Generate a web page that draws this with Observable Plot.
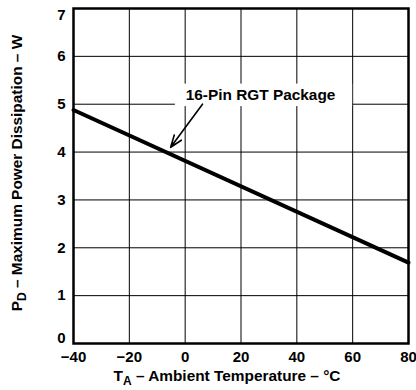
<!DOCTYPE html>
<html>
<head>
<meta charset="utf-8">
<script src="https://cdn.jsdelivr.net/npm/d3@7"></script>
<script src="https://cdn.jsdelivr.net/npm/@observablehq/plot@0.6"></script>
<style>
  html, body { margin: 0; padding: 0; background: #fff; }
  #chart { width: 416px; height: 390px; }
  svg { font-family: "Liberation Sans", Arial, sans-serif; }
</style>
</head>
<body>
<div id="chart"></div>
<script>
// Data
const temperature = [-40, 80];          // T_A (°C)
const power = [4.88, 1.69];             // P_D (W)
const xTicks = [-40, -20, 0, 20, 40, 60, 80];
const yTicks = [0, 1, 2, 3, 4, 5, 6, 7];
const seriesLabel = "16-Pin RGT Package";
// annotation anchors (data units)
const labelPos = {x: 27, y: 5.2};
const labelBox = {x1: -3.5, x2: 60, y1: 4.95, y2: 5.42};
const arrowPos = {x1: 6.2, y1: 5.0, x2: -5.2, y2: 4.1};

const data = temperature.map((t, i) => ({t, p: power[i]}));
const yMin = yTicks[0], yMax = yTicks[yTicks.length - 1];
const yMid = yTicks.filter(v => v !== yMin && v !== yMax);
const yAxisOpts = {tickSize: 0, tickPadding: 8, fontSize: 15, fontWeight: "bold", label: null};

const plot = Plot.plot({
  width: 416,
  height: 390,
  marginTop: 8,
  marginRight: 8,
  marginBottom: 47,
  marginLeft: 73,
  style: {fontFamily: "'Liberation Sans', Arial, sans-serif", fontSize: "15px", fontWeight: "bold", color: "#000"},
  x: {domain: [-40, 80], ticks: xTicks, tickSize: 0, tickPadding: 8, label: null},
  y: {domain: [0, 7], ticks: yTicks, tickSize: 0, tickPadding: 8, label: null},
  marks: [
    Plot.gridX(xTicks, {stroke: "#000", strokeOpacity: 1, strokeWidth: 1}),
    Plot.gridY(yTicks, {stroke: "#000", strokeOpacity: 1, strokeWidth: 1}),
    Plot.rect([labelBox], {x1: "x1", x2: "x2", y1: "y1", y2: "y2", fill: "#fff"}),
    Plot.line(data, {x: "t", y: "p", stroke: "#000", strokeWidth: 4}),
    Plot.arrow([arrowPos], {x1: "x1", y1: "y1", x2: "x2", y2: "y2", stroke: "#000", strokeWidth: 1.6, headLength: 12, headAngle: 40}),
    Plot.text([labelPos], {x: "x", y: "y", text: () => seriesLabel, fontSize: 15.4, fontWeight: "bold", fill: "#000"}),
    Plot.frame({stroke: "#000", strokeWidth: 2.5}),
    Plot.axisX(xTicks, {tickSize: 0, tickPadding: 8, fontSize: 15, fontWeight: "bold", label: null}),
    Plot.axisY(yMid, yAxisOpts),
    Plot.axisY([yMin], {...yAxisOpts, dy: -5}),
    Plot.axisY([yMax], {...yAxisOpts, dy: 7})
  ]
});
document.getElementById("chart").appendChild(plot);

const svg = d3.select(plot);
// X axis title with subscript
const xt = svg.append("text")
  .attr("x", 227).attr("y", 381)
  .attr("text-anchor", "middle")
  .attr("font-size", 15.4).attr("font-weight", "bold").attr("fill", "#000");
xt.append("tspan").text("T");
xt.append("tspan").attr("dy", 3.5).attr("font-size", 12).text("A");
xt.append("tspan").attr("dy", -3.5).text(" – Ambient Temperature – °C");

// Y axis title with subscript
const yt = svg.append("text")
  .attr("transform", "translate(22,173) rotate(-90)")
  .attr("text-anchor", "middle")
  .attr("font-size", 15.4).attr("font-weight", "bold").attr("fill", "#000");
yt.append("tspan").text("P");
yt.append("tspan").attr("dy", 3.5).attr("font-size", 12).text("D");
yt.append("tspan").attr("dy", -3.5).text(" – Maximum Power Dissipation – W");
</script>
</body>
</html>
